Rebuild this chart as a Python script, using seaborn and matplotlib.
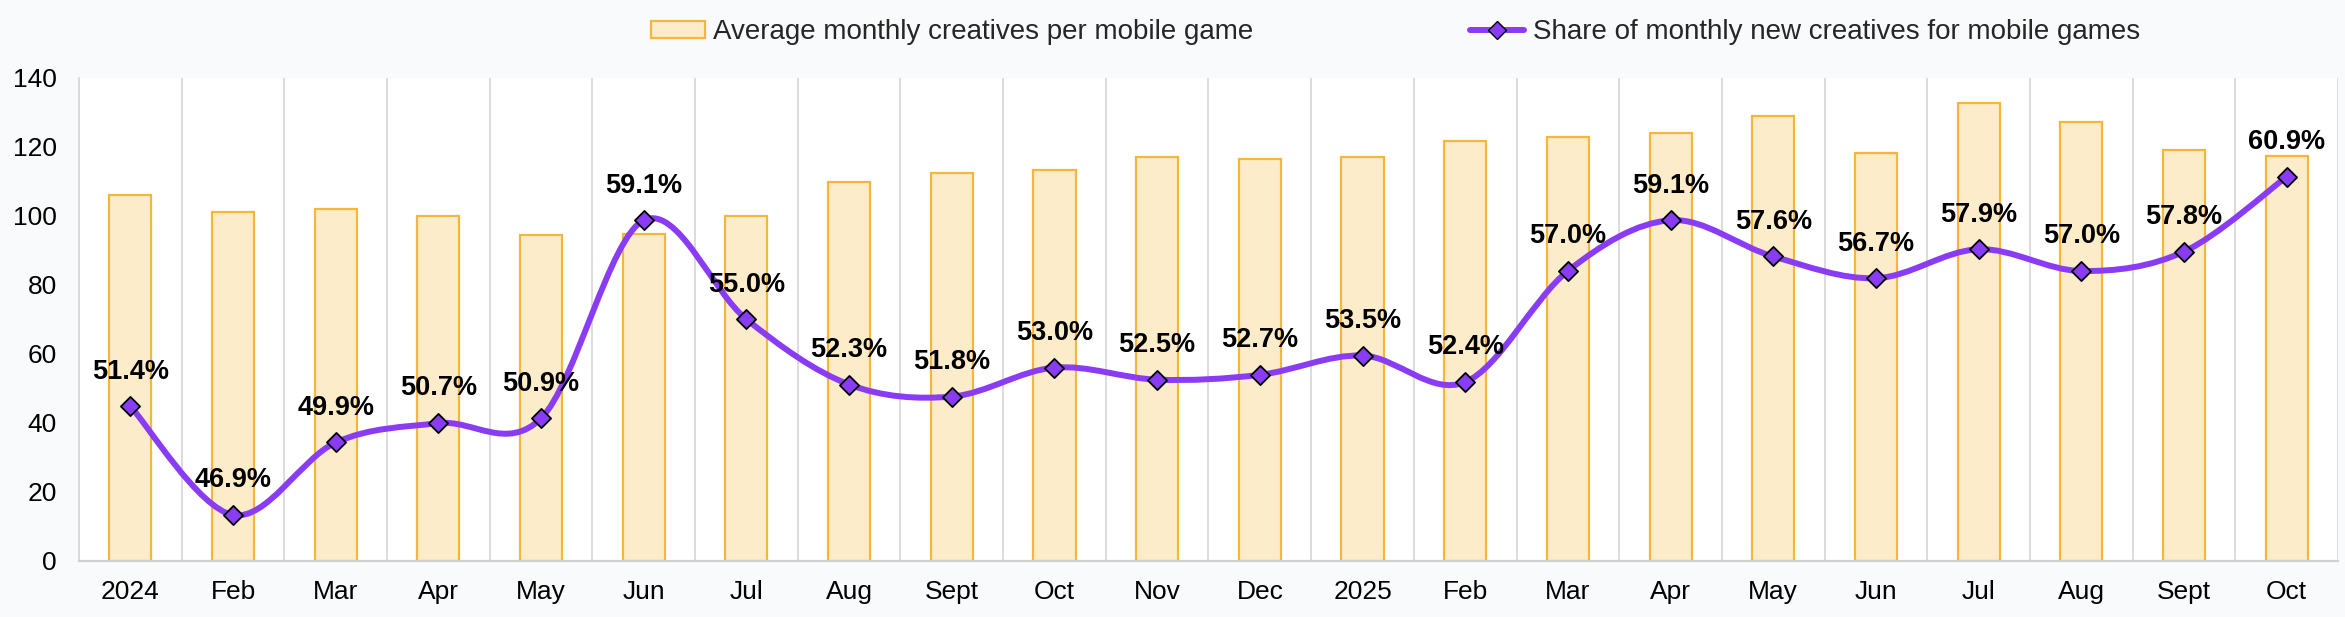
import matplotlib
matplotlib.use("Agg")
import matplotlib.pyplot as plt
from matplotlib.path import Path
from matplotlib.patches import PathPatch, Patch
from matplotlib.lines import Line2D
import seaborn as sns
import numpy as np

months = ["2024", "Feb", "Mar", "Apr", "May", "Jun", "Jul", "Aug", "Sept", "Oct", "Nov", "Dec",
          "2025", "Feb", "Mar", "Apr", "May", "Jun", "Jul", "Aug", "Sept", "Oct"]
avg_creatives = [106, 101, 102, 99.8, 94.4, 94.7, 100, 109.7, 112.4, 113.3, 117, 116.5,
                 117, 121.8, 122.8, 124, 128.8, 118.3, 132.8, 127.2, 119.1, 117.2]
new_share = [51.4, 46.9, 49.9, 50.7, 50.9, 59.1, 55.0, 52.3, 51.8, 53.0, 52.5, 52.7,
             53.5, 52.4, 57.0, 59.1, 57.6, 56.7, 57.9, 57.0, 57.8, 60.9]
bar_label = "Average monthly creatives per mobile game"
line_label = "Share of monthly new creatives for mobile games"

BAR_FILL = "#fdecca"
BAR_EDGE = "#f6b63a"
PURPLE = "#8a3cf5"
GRID = "#d9d9d9"


def smooth_path(xs, ys):
    # excel-like smoothed line: catmull-rom segments as cubic beziers
    pts = np.column_stack([xs, ys]).astype(float)
    n = len(pts)
    verts = [pts[0]]
    codes = [Path.MOVETO]
    for i in range(n - 1):
        p0 = pts[max(i - 1, 0)]
        p1 = pts[i]
        p2 = pts[i + 1]
        p3 = pts[min(i + 2, n - 1)]
        c1 = p1 + (p2 - p0) / 6
        c2 = p2 - (p3 - p1) / 6
        verts += [c1, c2, p2]
        codes += [Path.CURVE4] * 3
    return Path(verts, codes)


sns.set_theme(style="white")
plt.rcParams["font.family"] = ["Liberation Sans", "DejaVu Sans"]

fig = plt.figure(figsize=(23.45, 6.17), dpi=100, facecolor="#f9fafb")
ax = fig.add_axes([0.0337, 0.091, 0.9633, 0.783])
ax.set_facecolor("white")

x = np.arange(len(months))
sns.barplot(x=x, y=avg_creatives, ax=ax, color=BAR_FILL, saturation=1,
            edgecolor=BAR_EDGE, linewidth=1.6, width=0.41, zorder=2)

ax.set_ylim(0, 140)
ax.set_xlim(-0.5, len(months) - 0.5)
ax.set_yticks(range(0, 141, 20))
ax.set_xticks(x, months)
ax.set_xticks(np.arange(-0.5, len(months), 1), minor=True)
ax.grid(which="minor", axis="x", color=GRID, lw=1.3, zorder=0)
ax.grid(which="major", visible=False)
ax.tick_params(which="both", length=0, labelsize=19, colors="black")
ax.tick_params(axis="y", pad=16)
ax.tick_params(axis="x", pad=14)
ax.set_xlabel("")
ax.set_ylabel("")
for s in ["top", "right"]:
    ax.spines[s].set_visible(False)
ax.spines["left"].set_color(GRID)
ax.spines["bottom"].set_color("#d0d0d0")
ax.spines["bottom"].set_linewidth(1.6)

ax2 = ax.twinx()
ax2.set_ylim(45, 65)
ax2.set_yticks([])
for s in ax2.spines.values():
    s.set_visible(False)

ax2.add_patch(PathPatch(smooth_path(x, new_share), facecolor="none",
                        edgecolor=PURPLE, lw=4.3, zorder=3, capstyle="round"))
sns.scatterplot(x=x, y=new_share, ax=ax2, marker="D", s=95, color=PURPLE,
                edgecolor="black", linewidth=1.3, zorder=4)
ax2.set_ylabel("")

for xi, v in zip(x, new_share):
    ax2.annotate(f"{v:.1f}%", (xi, v), xytext=(0, 25), textcoords="offset points",
                 ha="center", va="center", fontsize=19.5, fontweight="bold", color="black")

handles = [
    Patch(facecolor=BAR_FILL, edgecolor=BAR_EDGE, lw=1.6),
    Line2D([], [], color=PURPLE, lw=4.3, marker="D", markersize=9.5,
           markerfacecolor=PURPLE, markeredgecolor="black"),
]
fig.legend(handles, [bar_label, line_label], loc="center", bbox_to_anchor=(0.595, 0.948),
           ncol=2, frameon=False, fontsize=20, columnspacing=7.8, handlelength=1.95,
           handleheight=0.55, handletextpad=0.3)

fig.savefig("out.png", dpi=100, facecolor=fig.get_facecolor())
